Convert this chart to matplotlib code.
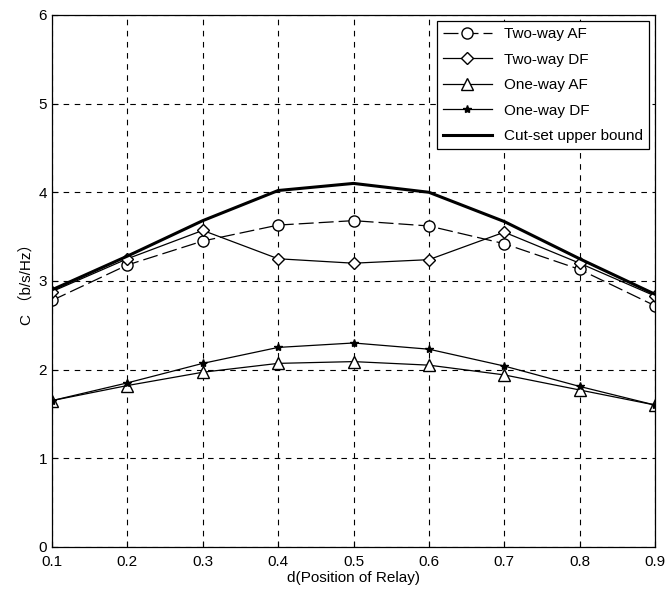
import numpy as np
import matplotlib
matplotlib.use('Agg')
import matplotlib.pyplot as plt

plt.rcParams['font.family'] = ['Liberation Sans', 'Noto Sans CJK SC', 'DejaVu Sans']

# relay position
d = [0.1, 0.2, 0.3, 0.4, 0.5, 0.6, 0.7, 0.8, 0.9]

# capacity values
two_way_af = [2.78, 3.18, 3.45, 3.63, 3.68, 3.62, 3.42, 3.13, 2.72]
two_way_df = [2.88, 3.25, 3.57, 3.25, 3.20, 3.24, 3.55, 3.20, 2.83]
one_way_af = [1.65, 1.82, 1.97, 2.07, 2.09, 2.05, 1.94, 1.77, 1.60]
one_way_df = [1.65, 1.85, 2.07, 2.25, 2.30, 2.23, 2.04, 1.81, 1.60]
cut_set = [2.90, 3.28, 3.68, 4.02, 4.10, 4.00, 3.67, 3.25, 2.85]

fig = plt.figure(figsize=(6.67, 5.99), dpi=100)
ax = fig.add_axes([0.078, 0.087, 0.904, 0.888])

ax.plot(d, two_way_af, color='black', lw=0.9, dashes=(12, 4),
        marker='o', ms=8, mfc='white', mec='black', label='Two-way AF')
ax.plot(d, two_way_df, 'k-', lw=0.9,
        marker='D', ms=6, mfc='white', mec='black', label='Two-way DF')
ax.plot(d, one_way_af, 'k-', lw=0.9,
        marker='^', ms=8, mfc='white', mec='black', label='One-way AF')
ax.plot(d, one_way_df, 'k-', lw=0.9,
        marker='*', ms=6, mfc='black', mec='black', label='One-way DF')
ax.plot(d, cut_set, 'k-', lw=2.2, label='Cut-set upper bound')

ax.set_xlim(0.1, 0.9)
ax.set_ylim(0, 6)
ax.set_xticks(d)
ax.set_xticklabels(['0.1', '0.2', '0.3', '0.4', '0.5', '0.6', '0.7', '0.8', '0.9'])
ax.set_yticks([0, 1, 2, 3, 4, 5, 6])
ax.grid(True, color='black', ls=(0, (5, 5)), lw=0.8)
ax.tick_params(direction='in', length=4, labelsize=11, color='black')
ax.tick_params(axis='x', pad=6)
for s in ax.spines.values():
    s.set_color('black')
    s.set_linewidth(0.9)

ax.set_xlabel('d(Position of Relay)', fontsize=11, labelpad=1)
ax.set_ylabel('C （b/s/Hz）', fontsize=11, labelpad=4)

leg = ax.legend(loc='upper right', fontsize=11, fancybox=False, framealpha=1,
                edgecolor='black', borderaxespad=0.4, handlelength=3.2,
                labelspacing=0.75)
leg.get_frame().set_linewidth(0.9)

fig.savefig('out.png', dpi=100)
